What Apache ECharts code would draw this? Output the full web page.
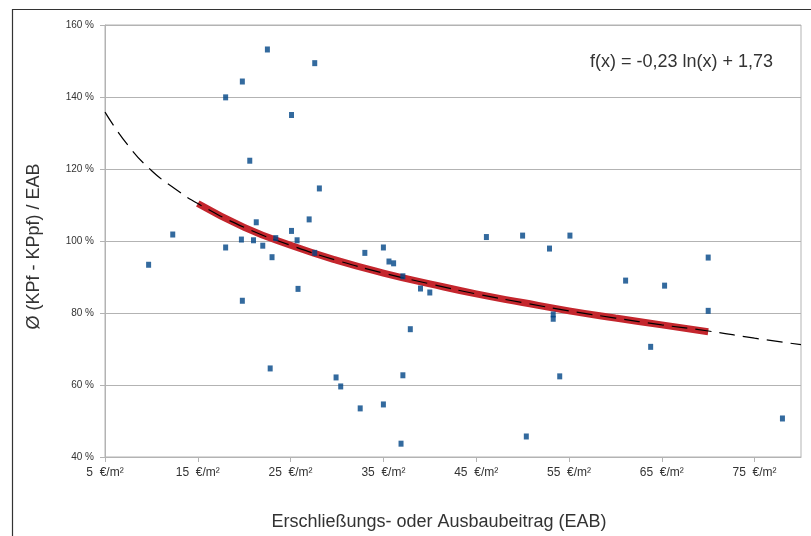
<!DOCTYPE html>
<html>
<head>
<meta charset="utf-8">
<script src="https://cdn.jsdelivr.net/npm/echarts@6/dist/echarts.min.js"></script>
<style>
  html, body { margin: 0; padding: 0; background: #fff; }
  #chart { width: 811px; height: 536px; }
</style>
</head>
<body>
<div id="chart"></div>
<script>
// x ticks shown on the axis (€/m²)
const xTicks = [5, 15, 25, 35, 45, 55, 65, 75];

// measured points: [EAB in €/m², ratio in %]
const points = [
  [22.5, 153.2], [27.6, 149.4], [19.8, 144.3], [18.0, 139.9], [25.1, 135.0],
  [20.6, 122.3], [28.1, 114.6], [27.0, 106.0], [21.3, 105.2], [25.1, 102.8],
  [12.3, 101.8], [23.4, 100.8], [19.7, 100.4], [21.0, 100.2], [25.7, 100.2],
  [18.0, 98.2], [22.0, 98.7], [23.0, 95.5], [27.6, 96.7], [9.7, 93.4],
  [25.8, 86.7], [19.8, 83.4], [22.8, 64.6], [29.9, 62.1], [30.4, 59.6],
  [33.0, 96.7], [35.0, 98.2], [35.6, 94.3], [36.1, 93.8], [37.1, 90.2],
  [39.0, 86.8], [40.0, 85.7], [46.1, 101.1], [50.0, 101.5], [52.9, 97.9],
  [55.1, 101.5], [53.3, 79.6], [53.3, 78.4], [37.9, 75.5], [37.1, 62.7],
  [54.0, 62.4], [32.5, 53.5], [35.0, 54.6], [36.9, 43.7], [50.4, 45.7],
  [70.0, 95.4], [61.1, 89.0], [65.3, 87.6], [70.0, 80.6], [63.8, 70.6],
  [78.0, 50.7]
];

// log trend line (dashed, whole range)
const trendX = [5, 7.5, 10, 12.5, 15, 20, 25, 30, 35, 40, 45, 50, 55, 60, 65, 70, 75, 80];
const trendY = [135.8, 126.5, 119.6, 114.6, 110.4, 103.8, 98.8, 94.6, 91.1, 88.1, 85.3, 82.9, 80.6, 78.6, 76.7, 75.0, 73.0, 71.2];

// red band covers the data range only
const fitX = [15, 20, 25, 30, 35, 40, 45, 50, 55, 60, 65, 70];
const fitY = [110.4, 103.8, 98.8, 94.6, 91.1, 88.1, 85.3, 82.9, 80.6, 78.6, 76.7, 74.8];

const formula = 'f(x) = -0,23 ln(x) + 1,73';

const font = '"Liberation Sans", Arial, sans-serif';
const gridColor = '#b3b3b3';
const textColor = '#333';

const chart = echarts.init(document.getElementById('chart'), null, { renderer: 'canvas' });

chart.setOption({
  animation: false,
  textStyle: { fontFamily: font },
  grid: {
    left: 105, top: 25, width: 696, height: 432,
    show: true, borderColor: gridColor, borderWidth: 1,
  },
  graphic: [
    {
      type: 'rect', z: -10, silent: true,
      shape: { x: 12.5, y: 9.5, width: 900, height: 600 },
      style: { fill: 'none', stroke: '#333', lineWidth: 1.2 },
    },
    {
      type: 'text', left: 590, top: 53,
      style: { text: formula, fontSize: 18, fontFamily: font, fill: textColor },
    },
  ],
  xAxis: {
    type: 'value',
    min: 5,
    max: 80,
    name: 'Erschließungs- oder Ausbaubeitrag (EAB)',
    nameLocation: 'middle',
    nameGap: 56,
    nameTextStyle: { fontSize: 18, color: textColor, padding: [0, 28, 0, 0] },
    axisLine: { lineStyle: { color: gridColor } },
    axisTick: { show: true, length: 5, customValues: xTicks, lineStyle: { color: gridColor } },
    axisLabel: {
      customValues: xTicks,
      fontSize: 12,
      color: textColor,
      margin: 10,
      formatter: (v) => v + '  €/m²',
    },
    splitLine: { show: false },
  },
  yAxis: {
    type: 'value',
    min: 40,
    max: 160,
    interval: 20,
    name: 'Ø (KPf - KPpf) / EAB',
    nameLocation: 'middle',
    nameGap: 62,
    nameTextStyle: { fontSize: 18, color: textColor, padding: [0, 11, 0, 0] },
    axisLine: { show: true, lineStyle: { color: gridColor } },
    axisTick: { show: true, length: 5, lineStyle: { color: gridColor } },
    axisLabel: { fontSize: 10, color: textColor, margin: 11, formatter: '{value} %' },
    splitLine: { lineStyle: { color: gridColor, width: 1 } },
  },
  series: [
    {
      name: 'fit',
      type: 'line',
      smooth: true,
      symbol: 'none',
      lineStyle: { color: '#c4262d', width: 7 },
      data: fitX.map((x, i) => [x, fitY[i]]),
      z: 2,
    },
    {
      name: 'trend',
      type: 'line',
      smooth: true,
      symbol: 'none',
      lineStyle: { color: '#000', width: 1.2, type: [16, 8] },
      data: trendX.map((x, i) => [x, trendY[i]]),
      z: 3,
    },
    {
      name: 'points',
      type: 'scatter',
      symbol: 'rect',
      symbolSize: [5, 6],
      itemStyle: { color: '#004586' },
      data: points,
      z: 4,
    },
  ],
});
</script>
</body>
</html>
